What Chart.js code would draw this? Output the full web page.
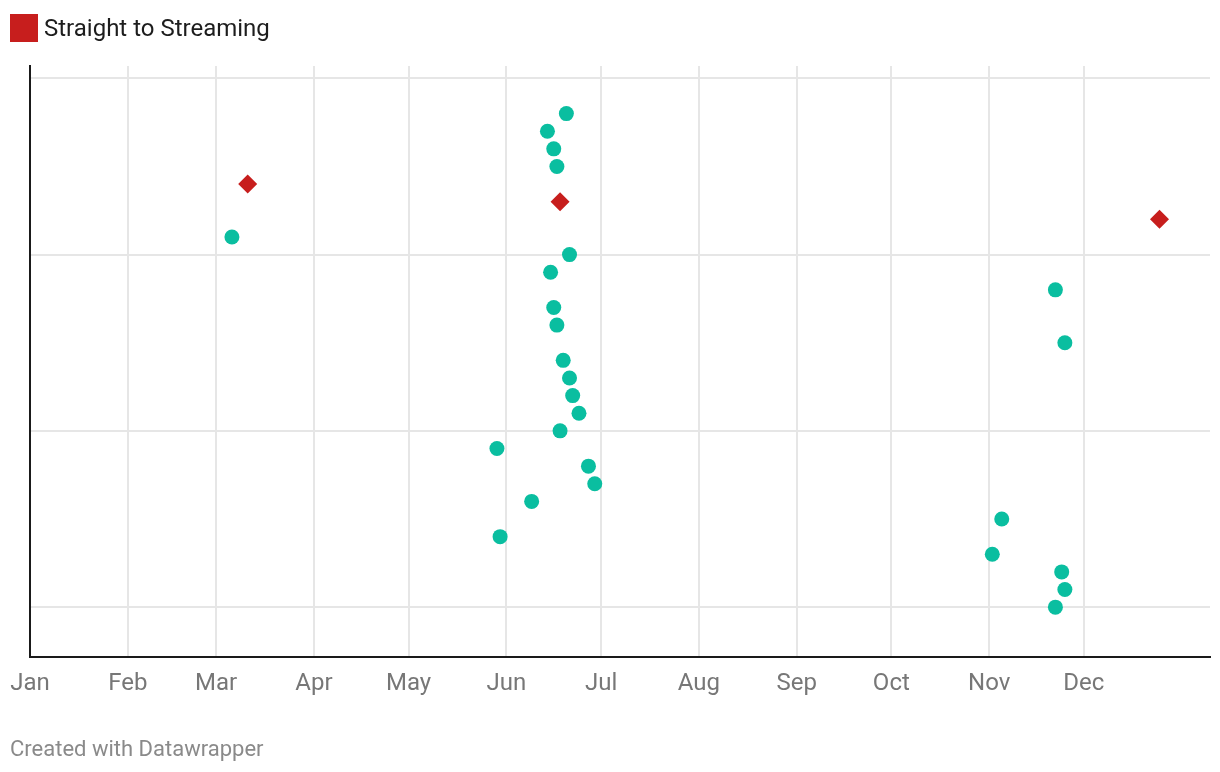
<!DOCTYPE html>
<html>
<head>
<meta charset="utf-8">
<script src="https://cdn.jsdelivr.net/npm/chart.js@4/dist/chart.umd.min.js"></script>
<style>
  html, body { margin: 0; padding: 0; background: #fff; }
  body { width: 1220px; height: 772px; position: relative; overflow: hidden; font-family: Roboto, sans-serif; }
  #legend { position: absolute; left: 10px; top: 14px; height: 28px; display: flex; align-items: center; }
  #legend .swatch { width: 28px; height: 28px; background: #c71e1d; margin-right: 6px; }
  #legend span { font-size: 24px; line-height: 28px; color: #1d1d1d; }
  #footer { position: absolute; left: 10px; top: 738px; font-size: 22px; line-height: 22px; color: #8a8a8a; }
  #wrap { position: absolute; left: 0; top: 0; width: 1220px; height: 772px; }
</style>
</head>
<body>
<div id="wrap"><canvas id="chart"></canvas></div>
<div id="legend"><div class="swatch"></div><span>Straight to Streaming</span></div>
<div id="footer">Created with Datawrapper</div>
<script>
// day of year (0 = Jan 1) where each month starts
const monthStarts = [0, 31, 59, 90, 120, 151, 181, 212, 243, 273, 304, 334];
const monthLabels = ['Jan', 'Feb', 'Mar', 'Apr', 'May', 'Jun', 'Jul', 'Aug', 'Sep', 'Oct', 'Nov', 'Dec'];
const rankTicks = [0, 10, 20, 30];

// theatrical releases: day of year, rank
const theaterDays = [64, 170, 164, 166, 167, 171, 165, 166, 167, 169, 171, 172, 174, 168, 148, 177, 179, 159, 149, 325, 328, 308, 305, 327, 328, 325];
const theaterRanks = [21, 28, 27, 26, 25, 20, 19, 17, 16, 14, 13, 12, 11, 10, 9, 8, 7, 6, 4, 18, 15, 5, 3, 2, 1, 0];

// straight to streaming: day of year, rank
const streamDays = [69, 168, 358];
const streamRanks = [24, 23, 22];

const toPoints = (xs, ys) => xs.map((x, i) => ({ x: x, y: ys[i] }));

const gridColor = '#e6e6e6';
const axisColor = '#1a1a1a';

new Chart(document.getElementById('chart'), {
  type: 'scatter',
  data: {
    datasets: [
      {
        label: 'Theaters',
        data: toPoints(theaterDays, theaterRanks),
        backgroundColor: '#0abea0',
        borderWidth: 0,
        pointRadius: 7.5,
        pointStyle: 'circle'
      },
      {
        label: 'Straight to Streaming',
        data: toPoints(streamDays, streamRanks),
        backgroundColor: '#c71e1d',
        borderWidth: 0,
        pointRadius: 9.5,
        pointStyle: 'rectRot'
      }
    ]
  },
  options: {
    responsive: true,
    maintainAspectRatio: false,
    animation: false,
    events: [],
    layout: { padding: { top: 66, left: 30, right: 10, bottom: 62 } },
    plugins: {
      legend: { display: false },
      tooltip: { enabled: false }
    },
    scales: {
      x: {
        type: 'linear',
        min: 0,
        max: 374,
        afterBuildTicks: (axis) => { axis.ticks = monthStarts.map(v => ({ value: v })); },
        afterFit: (axis) => { axis.paddingLeft = 0; },
        ticks: {
          callback: (v) => monthLabels[monthStarts.indexOf(v)],
          color: '#777',
          font: { family: 'Roboto', size: 24 },
          padding: 12,
          maxRotation: 0,
          autoSkip: false
        },
        grid: { color: gridColor, lineWidth: 2, drawTicks: false },
        border: { display: true, color: axisColor, width: 2 }
      },
      y: {
        min: -2.84,
        max: 30.7,
        afterBuildTicks: (axis) => { axis.ticks = rankTicks.map(v => ({ value: v })); },
        afterFit: (axis) => { axis.width = 0; },
        ticks: { display: false },
        grid: { color: gridColor, lineWidth: 2, drawTicks: false },
        border: { display: true, color: axisColor, width: 2 }
      }
    }
  }
});
</script>
</body>
</html>
